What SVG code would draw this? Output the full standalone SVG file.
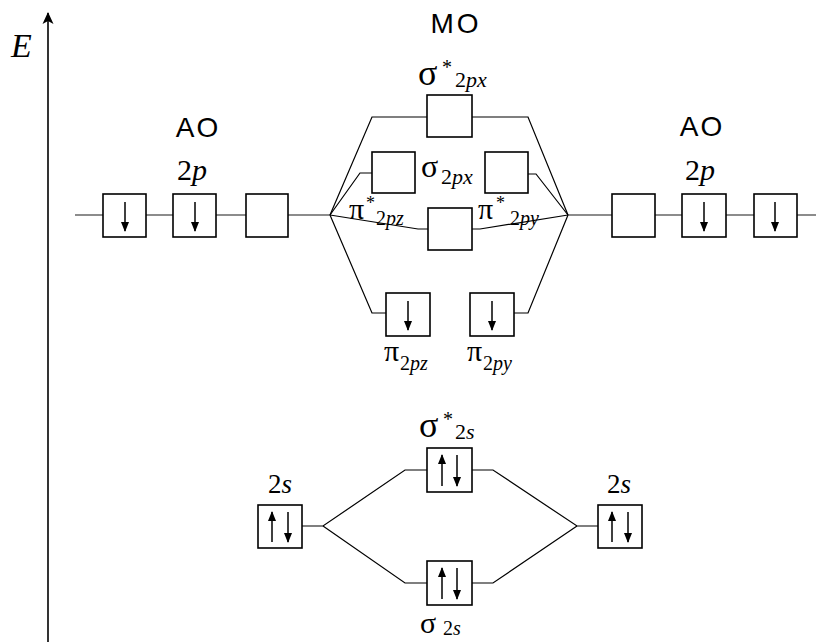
<svg xmlns="http://www.w3.org/2000/svg" width="816" height="642" viewBox="0 0 816 642">
<defs>
<marker id="ah" viewBox="0 0 10 10" refX="9" refY="5" markerWidth="10" markerHeight="10" markerUnits="userSpaceOnUse" orient="auto">
<path d="M0,1 L10,5 L0,9 Z" fill="#000"/>
</marker>
<marker id="axh" viewBox="0 0 12 12" refX="11" refY="6" markerWidth="12" markerHeight="12" markerUnits="userSpaceOnUse" orient="auto">
<path d="M0,0.5 L12,6 L0,11.5 L3,6 Z" fill="#000"/>
</marker>
</defs>
<style>
.box{fill:#fff;stroke:#000;stroke-width:1.6}
.ln{fill:none;stroke:#000;stroke-width:1.2}
.gl{fill:none;stroke:#666;stroke-width:1.4}
.ar{stroke:#000;stroke-width:1.5;marker-end:url(#ah)}
.sans{font-family:"Liberation Sans",Arial,sans-serif;fill:#000}
.ser{font-family:"Liberation Serif","Times New Roman",serif;fill:#000}
.it{font-style:italic}
</style>
<rect width="816" height="642" fill="#fff"/>

<g id="axis">
<line x1="48" y1="642" x2="48" y2="13" stroke="#000" stroke-width="1.6" marker-end="url(#axh)"/>
<text x="11" y="57" class="ser it" font-size="34">E</text>
</g>

<g id="headings">
<text x="198" y="137" class="sans" font-size="28" text-anchor="middle" letter-spacing="2">AO</text>
<text x="702" y="136" class="sans" font-size="28" text-anchor="middle" letter-spacing="2">AO</text>
<text x="456" y="33" class="sans" font-size="28" text-anchor="middle" letter-spacing="3">MO</text>
<text x="177" y="180" class="ser" font-size="30">2<tspan class="it">p</tspan></text>
<text x="685" y="180" class="ser" font-size="30">2<tspan class="it">p</tspan></text>
<text x="268" y="493" class="ser" font-size="27">2<tspan class="it">s</tspan></text>
<text x="607" y="493" class="ser" font-size="27">2<tspan class="it">s</tspan></text>
</g>

<g id="connectors">
<path class="gl" d="M75 215 H330"/>
<path class="gl" d="M568 215 H816"/>
<path class="ln" d="M330 215 L372 117 H427"/>
<path class="ln" d="M330 215 L360 173 H372"/>
<path class="ln" d="M330 215 L418 229 H428"/>
<path class="ln" d="M330 215 L372 313 H386"/>
<path class="ln" d="M568 215 L528 117 H472"/>
<path class="ln" d="M568 215 L536 174 H528"/>
<path class="ln" d="M568 215 L480 229 H472"/>
<path class="ln" d="M568 215 L528 313 H514"/>
<path class="ln" d="M302 526 H323 L405 470 H427"/>
<path class="ln" d="M323 526 L405 583 H427"/>
<path class="ln" d="M472 470 H493 L577 526 H598"/>
<path class="ln" d="M472 583 H493 L577 526"/>
</g>

<g id="ao-left-2p">
<rect class="box" x="103" y="194" width="43" height="43"/>
<line class="ar" x1="125" y1="202" x2="125" y2="231"/>
<rect class="box" x="173" y="194" width="43" height="43"/>
<line class="ar" x1="195" y1="202" x2="195" y2="231"/>
<rect class="box" x="246" y="194" width="42" height="43"/>
</g>

<g id="ao-right-2p">
<rect class="box" x="612" y="194" width="43" height="43"/>
<rect class="box" x="682" y="194" width="44" height="43"/>
<line class="ar" x1="704" y1="202" x2="704" y2="231"/>
<rect class="box" x="754" y="194" width="43" height="43"/>
<line class="ar" x1="775" y1="202" x2="775" y2="231"/>
</g>

<g id="mo-sigma-star-2px">
<rect class="box" x="427" y="95" width="45" height="42"/>
<text x="418" y="85" class="ser" font-size="36">σ</text>
<text x="442" y="74" class="ser" font-size="20">*</text>
<text x="455" y="87" class="ser" font-size="22">2<tspan class="it">px</tspan></text>
</g>

<g id="mo-pi-star-2pz">
<rect class="box" x="372" y="152" width="43" height="41"/>
<text x="349" y="219" class="ser" font-size="30">π</text>
<text x="366" y="209" class="ser" font-size="18">*</text>
<text x="376" y="225" class="ser" font-size="20">2<tspan class="it">pz</tspan></text>
</g>

<g id="mo-sigma-2px">
<rect class="box" x="428" y="208" width="44" height="42"/>
<text x="421" y="177" class="ser" font-size="32">σ</text>
<text x="441" y="184" class="ser" font-size="22">2<tspan class="it">px</tspan></text>
</g>

<g id="mo-pi-star-2py">
<rect class="box" x="485" y="152" width="43" height="41"/>
<text x="478" y="219" class="ser" font-size="30">π</text>
<text x="496" y="209" class="ser" font-size="18">*</text>
<text x="510" y="225" class="ser" font-size="20">2<tspan class="it">py</tspan></text>
</g>

<g id="mo-pi-2pz">
<rect class="box" x="386" y="293" width="44" height="43"/>
<line class="ar" x1="408" y1="301" x2="408" y2="330"/>
<text x="384" y="361" class="ser" font-size="30">π</text>
<text x="400" y="370" class="ser" font-size="20">2<tspan class="it">pz</tspan></text>
</g>

<g id="mo-pi-2py">
<rect class="box" x="470" y="293" width="44" height="43"/>
<line class="ar" x1="492" y1="301" x2="492" y2="330"/>
<text x="467" y="361" class="ser" font-size="30">π</text>
<text x="483" y="370" class="ser" font-size="20">2<tspan class="it">py</tspan></text>
</g>

<g id="ao-left-2s">
<rect class="box" x="258" y="505" width="44" height="43"/>
<line class="ar" x1="272" y1="542" x2="272" y2="512"/>
<line class="ar" x1="288" y1="512" x2="288" y2="542"/>
</g>

<g id="ao-right-2s">
<rect class="box" x="598" y="505" width="44" height="43"/>
<line class="ar" x1="612" y1="542" x2="612" y2="512"/>
<line class="ar" x1="628" y1="512" x2="628" y2="542"/>
</g>

<g id="mo-sigma-star-2s">
<rect class="box" x="427" y="448" width="45" height="44"/>
<line class="ar" x1="442" y1="486" x2="442" y2="455"/>
<line class="ar" x1="457" y1="455" x2="457" y2="486"/>
<text x="419" y="437" class="ser" font-size="36">σ</text>
<text x="443" y="426" class="ser" font-size="20">*</text>
<text x="455" y="439" class="ser" font-size="22">2<tspan class="it">s</tspan></text>
</g>

<g id="mo-sigma-2s">
<rect class="box" x="427" y="561" width="45" height="44"/>
<line class="ar" x1="442" y1="599" x2="442" y2="568"/>
<line class="ar" x1="457" y1="568" x2="457" y2="599"/>
<text x="420" y="633" class="ser" font-size="30">σ</text>
<text x="443" y="635" class="ser" font-size="20">2<tspan class="it">s</tspan></text>
</g>
</svg>
